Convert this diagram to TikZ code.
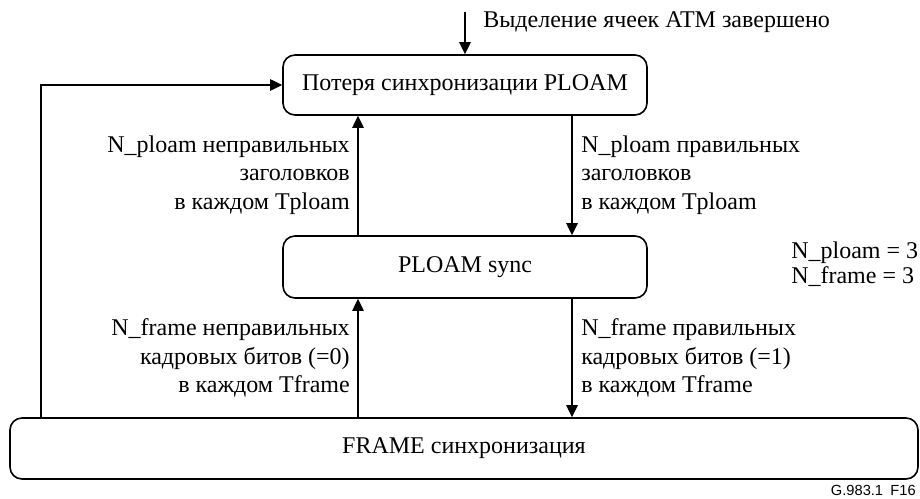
\documentclass[tikz,border=0pt]{standalone}
\usepackage{fontspec}
\setmainfont{Liberation Serif}
\newfontfamily\tagfont{Liberation Sans}
\usetikzlibrary{arrows.meta}

\tikzset{
  state/.style={draw, line width=1.2pt, rounded corners=9pt, font=\fontsize{18}{21}\selectfont},
  arr/.style={line width=1.2pt, -{Triangle[length=9pt,width=8.5pt]}},
  cond/.style={font=\fontsize{18}{21.4}\selectfont, inner sep=0pt},
}

\begin{document}
\begin{tikzpicture}[x=0.75pt, y=-0.75pt]
    \useasboundingbox (0,0) rectangle (920,499);
    % states
    \node[state, minimum width=273pt, minimum height=45pt] (lost) at (465,85) {Потеря синхронизации PLOAM};
    \node[state, minimum width=273pt, minimum height=46.5pt] (sync) at (465,267) {PLOAM sync};
    \node[state, minimum width=681pt, minimum height=45.75pt] (frame) at (464,448.5) {FRAME синхронизация};
    % helper points
    \coordinate (start) at (465,12);
    \coordinate (loopx) at (41,0);
    \coordinate (lx) at (358,0);
    \coordinate (rx) at (572,0);
    % transitions
    \draw[arr] (start) -- (lost.north);
    \draw[arr] (frame.north -| loopx) |- (lost.west);
    \draw[arr] (sync.north -| lx) -- (lost.south -| lx);
    \draw[arr] (lost.south -| rx) -- (sync.north -| rx);
    \draw[arr] (frame.north -| lx) -- (sync.south -| lx);
    \draw[arr] (sync.south -| rx) -- (frame.north -| rx);
    % conditions
    \node[cond, anchor=west] (done) at (483,22) {Выделение ячеек ATM завершено};
    \node[cond, align=right, anchor=east] (badploam) at (350,175) {N\_ploam неправильных\\заголовков\\в каждом Tploam};
    \node[cond, align=left, anchor=west] (goodploam) at (581,175) {N\_ploam правильных\\заголовков\\в каждом Tploam};
    \node[cond, align=right, anchor=east] (badframe) at (350,358) {N\_frame неправильных\\кадровых битов (=0)\\в каждом Tframe};
    \node[cond, align=left, anchor=west] (goodframe) at (581,358) {N\_frame правильных\\кадровых битов (=1)\\в каждом Tframe};
    \node[cond, align=left, anchor=west, font=\fontsize{18}{18.75}\selectfont] (params) at (791,264) {N\_ploam = 3\\N\_frame = 3};
    \node[inner sep=0pt, anchor=south east, font=\tagfont\fontsize{11}{12}\selectfont] (tag) at (916,496) {G.983.1\hspace{0.5em}F16};
\end{tikzpicture}
\end{document}
